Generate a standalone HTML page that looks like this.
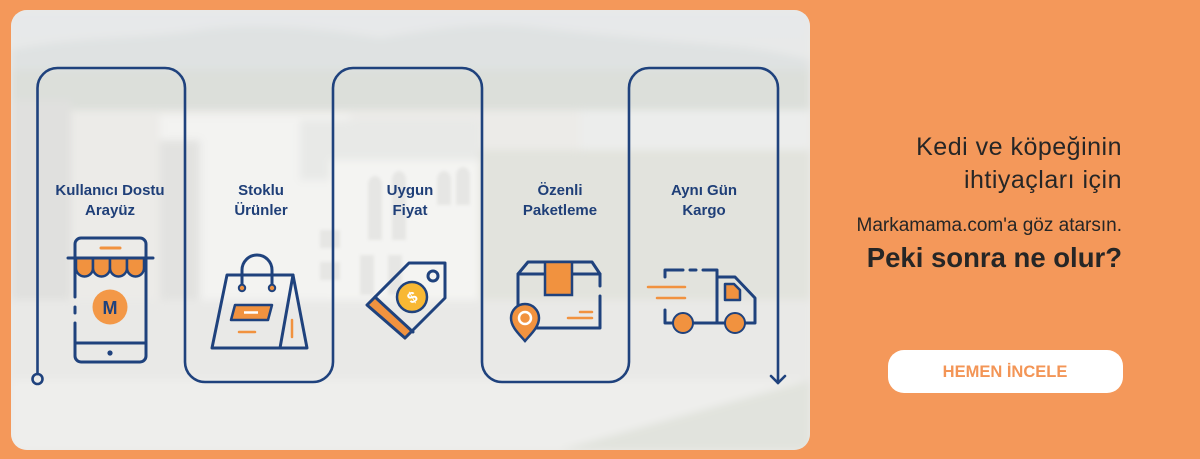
<!DOCTYPE html>
<html><head><meta charset="utf-8"><style>
html,body{margin:0;padding:0;background:#F4985A;}
svg{display:block;}
</style></head><body>
<svg width="1200" height="459" viewBox="0 0 1200 459" xmlns="http://www.w3.org/2000/svg">
<defs>
<clipPath id="pc"><rect x="11" y="10" width="799" height="440" rx="16"/></clipPath>
<filter id="bl" x="-10%" y="-10%" width="120%" height="120%"><feGaussianBlur stdDeviation="4"/></filter>
<filter id="bl2" x="-10%" y="-10%" width="120%" height="120%"><feGaussianBlur stdDeviation="1.5"/></filter>
<linearGradient id="sky" x1="0" y1="0" x2="0" y2="1">
<stop offset="0" stop-color="#e6e8ea"/><stop offset="1" stop-color="#e9eae8"/>
</linearGradient>
</defs>
<rect width="1200" height="459" fill="#F4985A"/>
<g clip-path="url(#pc)">
<rect x="11" y="10" width="799" height="440" fill="#ecebe8"/>
<g filter="url(#bl)">
<rect x="11" y="10" width="799" height="70" fill="url(#sky)"/>
<path d="M11,50 C80,35 140,40 200,30 C260,22 320,28 380,38 C430,30 480,20 540,28 C600,35 660,40 720,45 C760,48 790,55 810,60 L810,100 L11,100 Z" fill="#dfe2e2"/>
<rect x="11" y="70" width="799" height="40" fill="#dcdfda"/>
<rect x="160" y="115" width="190" height="190" fill="#f3f3f1"/>
<rect x="160" y="140" width="40" height="170" fill="#e2e2e0"/>
<rect x="300" y="120" width="180" height="60" fill="#e8e9e7"/>
<rect x="330" y="160" width="150" height="160" fill="#f4f4f2"/>
<rect x="580" y="110" width="230" height="40" fill="#ecedec"/>
<rect x="480" y="150" width="330" height="220" fill="#e2e3dd"/>
<rect x="11" y="100" width="60" height="210" fill="#e0e0de"/>
<rect x="11" y="300" width="799" height="80" fill="#e9e9e7"/>
<rect x="11" y="380" width="799" height="70" fill="#eeeeec"/>
<path d="M560,450 L810,380 L810,450 Z" fill="#e1e3dd"/>
</g>
<g filter="url(#bl2)" fill="#e6e6e4">
<path d="M368,240 V185 A7,9 0 0 1 382,185 V240 Z"/>
<path d="M392,240 V180 A7,9 0 0 1 406,180 V240 Z"/>
<path d="M437,205 V180 A7,9 0 0 1 451,180 V205 Z"/>
<path d="M456,205 V176 A7,9 0 0 1 470,176 V205 Z"/>
<rect x="320" y="230" width="20" height="18"/>
<rect x="320" y="262" width="20" height="18"/>
<rect x="360" y="255" width="14" height="40"/>
<rect x="388" y="255" width="14" height="40"/>
</g>
</g>

<!-- path -->
<g fill="none" stroke="#1f427d" stroke-width="2.6" stroke-linecap="round" stroke-linejoin="round">
<path d="M37.5,374 V88 A20,20 0 0 1 57.5,68 H165 A20,20 0 0 1 185,88 V362 A20,20 0 0 0 205,382 H313 A20,20 0 0 0 333,362 V88 A20,20 0 0 1 353,68 H462 A20,20 0 0 1 482,88 V362 A20,20 0 0 0 502,382 H609 A20,20 0 0 0 629,362 V88 A20,20 0 0 1 649,68 H758 A20,20 0 0 1 778,88 V383"/>
<circle cx="37.5" cy="379" r="5"/>
<polyline points="771,376 778,383 785,376"/>
</g>

<!-- labels -->
<g font-family="'Liberation Sans', sans-serif" font-weight="bold" font-size="15" fill="#1f3f78" text-anchor="middle">
<text x="110" y="195">Kullanıcı Dostu</text><text x="110" y="215">Arayüz</text>
<text x="261" y="195">Stoklu</text><text x="261" y="215">Ürünler</text>
<text x="410" y="195">Uygun</text><text x="410" y="215">Fiyat</text>
<text x="560" y="195">Özenli</text><text x="560" y="215">Paketleme</text>
<text x="704" y="195">Aynı Gün</text><text x="704" y="215">Kargo</text>
</g>

<!-- phone icon -->
<g stroke="#1f427d" stroke-width="3" fill="none" stroke-linecap="round" stroke-linejoin="round">
<path d="M75,297 V244 A6,6 0 0 1 81,238 H140 A6,6 0 0 1 146,244 V356 A6,6 0 0 1 140,362 H81 A6,6 0 0 1 75,356 V323"/>
<line x1="75" y1="307" x2="75" y2="313"/>
<line x1="75" y1="343" x2="146" y2="343"/>
</g>
<line x1="101" y1="248" x2="120" y2="248" stroke="#F1923F" stroke-width="3" stroke-linecap="round"/>
<g fill="#F1923F" stroke="#1f427d" stroke-width="2.5">
<path d="M76,258 V268 A8.5,8.5 0 0 0 93,268 V258 Z"/>
<path d="M93,258 V268 A8.5,8.5 0 0 0 110,268 V258 Z"/>
<path d="M110,258 V268 A8.5,8.5 0 0 0 127,268 V258 Z"/>
<path d="M127,258 V268 A8.5,8.5 0 0 0 144,268 V258 Z"/>
</g>
<line x1="68" y1="258" x2="153" y2="258" stroke="#1f427d" stroke-width="3" stroke-linecap="round"/>
<circle cx="110" cy="307" r="17.5" fill="#F39847"/>
<text x="110" y="314" font-family="'Liberation Sans', sans-serif" font-weight="bold" font-size="18" fill="#1f427d" text-anchor="middle">M</text>
<circle cx="110" cy="353" r="2.6" fill="#1f427d"/>

<!-- bag icon -->
<g stroke="#1f427d" stroke-width="3" fill="none" stroke-linecap="round" stroke-linejoin="round">
<path d="M242,286 V270 A15,15 0 0 1 272,270 V286"/>
<path d="M227,275 H293 L307,348 H212 Z"/>
<line x1="293" y1="275" x2="280" y2="348"/>
</g>
<circle cx="242" cy="288" r="3.2" fill="#F1923F" stroke="#1f427d" stroke-width="2"/>
<circle cx="272" cy="288" r="3.2" fill="#F1923F" stroke="#1f427d" stroke-width="2"/>
<path d="M235,305 H272 L268,320 H231 Z" fill="#F1923F" stroke="#1f427d" stroke-width="2.5" stroke-linejoin="round"/>
<line x1="244" y1="312.5" x2="258" y2="312.5" stroke="#fff" stroke-width="2.5"/>
<line x1="239" y1="332" x2="255" y2="332" stroke="#F1923F" stroke-width="2.5" stroke-linecap="round"/>
<line x1="292" y1="320" x2="292" y2="337" stroke="#F1923F" stroke-width="2.5" stroke-linecap="round"/>

<!-- tag icon -->
<path d="M367,305 L405,340 L413,332 L375,297 Z" fill="#F1923F"/>
<g stroke="#1f427d" stroke-width="3" fill="none" stroke-linecap="round" stroke-linejoin="round">
<path d="M367,305 L409,263 H445 V298 L405,338 Z"/>
<line x1="375" y1="297" x2="413" y2="332"/>
<circle cx="433" cy="276" r="5"/>
</g>
<circle cx="412" cy="297" r="15" fill="#F8B834" stroke="#1f427d" stroke-width="2.5"/>
<text x="412" y="303" font-family="'Liberation Sans', sans-serif" font-weight="bold" font-size="16" fill="#fff" text-anchor="middle" transform="rotate(-30 412 297)">$</text>

<!-- box icon -->
<g stroke="#1f427d" stroke-width="3" fill="none" stroke-linecap="round" stroke-linejoin="round">
<path d="M528,262 H592 L600,274 H518 Z"/>
<path d="M600,286 V274 M600,296 V328 H518 V274"/>
</g>
<rect x="545" y="262" width="27" height="33" fill="#F1923F" stroke="#1f427d" stroke-width="2.5"/>
<path d="M525,341 C519,334 511,327 511,318 A14,14 0 0 1 539,318 C539,327 531,334 525,341 Z" fill="#F1923F" stroke="#1f427d" stroke-width="2.5"/>
<circle cx="525" cy="318" r="6" fill="none" stroke="#fff" stroke-width="2.5"/>
<line x1="580" y1="312" x2="592" y2="312" stroke="#F1923F" stroke-width="2.5" stroke-linecap="round"/>
<line x1="568" y1="318" x2="592" y2="318" stroke="#F1923F" stroke-width="2.5" stroke-linecap="round"/>

<!-- truck icon -->
<g stroke="#1f427d" stroke-width="3" fill="none" stroke-linecap="round" stroke-linejoin="round">
<path d="M665,277 V270 H683 M690,270 H696 M703,270 H717 V323"/>
<path d="M665,310 V323 H755 V298 L735,277 H717"/>
</g>
<path d="M725,284 H734 L740,290 V300 H725 Z" fill="#F1923F" stroke="#1f427d" stroke-width="2.5" stroke-linejoin="round"/>
<circle cx="683" cy="323" r="10" fill="#F1923F" stroke="#1f427d" stroke-width="2"/>
<circle cx="735" cy="323" r="10" fill="#F1923F" stroke="#1f427d" stroke-width="2"/>
<line x1="648" y1="287" x2="685" y2="287" stroke="#F1923F" stroke-width="2.5" stroke-linecap="round"/>
<line x1="657" y1="298" x2="685" y2="298" stroke="#F1923F" stroke-width="2.5" stroke-linecap="round"/>

<!-- right text -->
<g font-family="'Liberation Sans', sans-serif" fill="#262626" text-anchor="end">
<text x="1122" y="155" font-size="25" letter-spacing="0.5">Kedi ve köpeğinin</text>
<text x="1122" y="188" font-size="25" letter-spacing="0.5">ihtiyaçları için</text>
<text x="1122" y="231" font-size="19">Markamama.com'a göz atarsın.</text>
<text x="1122" y="267" font-size="27.5" font-weight="bold">Peki sonra ne olur?</text>
</g>
<rect x="888" y="350" width="235" height="43" rx="16" fill="#ffffff"/>
<text x="1005" y="377" font-family="'Liberation Sans', sans-serif" font-weight="bold" font-size="16.5" fill="#F39556" text-anchor="middle">HEMEN İNCELE</text>
</svg>
</body></html>
